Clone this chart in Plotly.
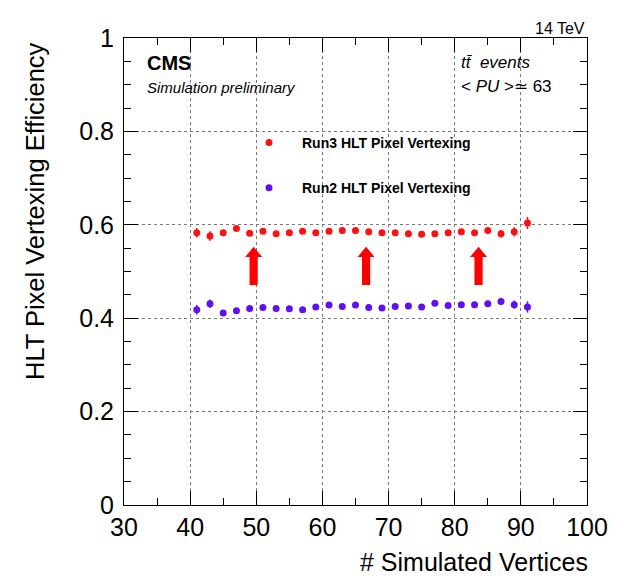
import plotly.graph_objects as go

# ---- data ----
n_vertices = [41, 43, 45, 47, 49, 51, 53, 55, 57, 59, 61, 63, 65,
              67, 69, 71, 73, 75, 77, 79, 81, 83, 85, 87, 89, 91]

run3_eff = [0.583, 0.576, 0.583, 0.592, 0.582, 0.586, 0.581, 0.583, 0.586,
            0.583, 0.586, 0.588, 0.588, 0.585, 0.583, 0.583, 0.581, 0.580,
            0.581, 0.583, 0.585, 0.583, 0.588, 0.581, 0.585, 0.604]
run3_err = [0.010, 0.010, 0.005, 0.005, 0.004, 0.004, 0.004, 0.004, 0.004,
            0.004, 0.004, 0.004, 0.004, 0.004, 0.004, 0.004, 0.004, 0.004,
            0.004, 0.004, 0.005, 0.005, 0.006, 0.008, 0.010, 0.013]

run2_eff = [0.418, 0.431, 0.411, 0.416, 0.421, 0.423, 0.421, 0.420, 0.418,
            0.424, 0.428, 0.425, 0.428, 0.423, 0.422, 0.425, 0.426, 0.424,
            0.432, 0.427, 0.429, 0.429, 0.431, 0.436, 0.429, 0.424]
run2_err = [0.010, 0.009, 0.005, 0.004, 0.004, 0.004, 0.004, 0.004, 0.004,
            0.004, 0.004, 0.004, 0.004, 0.004, 0.004, 0.004, 0.004, 0.004,
            0.004, 0.004, 0.005, 0.005, 0.006, 0.008, 0.009, 0.012]

series_names = ["Run3 HLT Pixel Vertexing", "Run2 HLT Pixel Vertexing"]
series_colors = ["#ff1010", "#6010f0"]

x_ticks = [30, 40, 50, 60, 70, 80, 90, 100]
y_ticks = [0, 0.2, 0.4, 0.6, 0.8, 1]

# improvement arrows (annotation decoration)
arrow_x = [49.6, 66.6, 83.6]
arrow_bottom, arrow_headbase, arrow_tip = 0.471, 0.531, 0.553

FONT = "Liberation Sans, Arial, Helvetica, sans-serif"

fig = go.Figure()
for name, col, y, e in [(series_names[0], series_colors[0], run3_eff, run3_err),
                        (series_names[1], series_colors[1], run2_eff, run2_err)]:
    fig.add_trace(go.Scatter(
        x=n_vertices, y=y, mode="markers", name=name, legendgroup=name,
        marker=dict(color=col, size=7, symbol="circle"),
        error_y=dict(type="data", array=e, visible=True, color=col,
                     thickness=1.5, width=0),
    ))

# arrows as filled paths
for ax_ in arrow_x:
    hw, sw = 1.29, 0.62
    path = (f"M {ax_-sw},{arrow_bottom} L {ax_+sw},{arrow_bottom} "
            f"L {ax_+sw},{arrow_headbase} L {ax_+hw},{arrow_headbase} "
            f"L {ax_},{arrow_tip} L {ax_-hw},{arrow_headbase} "
            f"L {ax_-sw},{arrow_headbase} Z")
    fig.add_shape(type="path", path=path, xref="x", yref="y",
                  fillcolor="#ff0000", line=dict(width=0))

axis_common = dict(
    showline=True, linecolor="black", linewidth=1, mirror="ticks",
    ticks="inside", ticklen=14, tickcolor="black", tickwidth=1,
    showgrid=True, gridcolor="#777777", gridwidth=1, griddash="dot",
    zeroline=False, tickfont=dict(family=FONT, size=25, color="black"),
)

fig.update_xaxes(range=[30, 100], tickvals=x_ticks,
                 minor=dict(dtick=5, tick0=0, ticks="inside", ticklen=7,
                            tickcolor="black", showgrid=False),
                 **axis_common)
fig.update_yaxes(range=[0, 1], tickvals=y_ticks, ticklabelstandoff=4,
                 minor=dict(dtick=0.05, tick0=0, ticks="inside", ticklen=7,
                            tickcolor="black", showgrid=False),
                 **axis_common)

# page has an 8px body margin; reference plot frame spans x 124..587, y 38..505
OFF = 8
W, H = 624, 579
L, R, T, B = 124 - OFF, W - (587 - OFF), 38 - OFF, H - (505 - OFF)
pw, ph = 587 - 124, 505 - 38

def px(xp):
    return (xp - 124) / pw

def py(yp):
    return (505 - yp) / ph

ann = []
ann.append(dict(text="<b>CMS</b>", x=px(145), y=py(63), xanchor="left",
                yanchor="middle", font=dict(family=FONT, size=20, color="black")))
ann.append(dict(text="<i>Simulation preliminary</i>", x=px(145), y=py(87),
                xanchor="left", yanchor="middle",
                font=dict(family=FONT, size=15, color="black")))
ann.append(dict(text="<i>tt\u0304  events</i>", x=px(459), y=py(62),
                xanchor="left", yanchor="middle",
                font=dict(family=FONT, size=17, color="black")))
ann.append(dict(text="&lt; <i>PU</i> &gt;\u2243 63", x=px(459), y=py(86),
                xanchor="left", yanchor="middle",
                font=dict(family=FONT, size=17, color="black")))
ann.append(dict(text="14 TeV", x=1.0, y=py(28), xanchor="right",
                yanchor="middle", font=dict(family=FONT, size=16, color="black")))
ann.append(dict(text="# Simulated Vertices", x=px(590), y=py(562),
                xanchor="right", yanchor="middle",
                font=dict(family=FONT, size=25, color="black")))
ann.append(dict(text="HLT Pixel Vertexing Efficiency", x=px(35), y=py(211),
                xanchor="center", yanchor="middle", textangle=-90,
                font=dict(family=FONT, size=25.5, color="black")))
for a in ann:
    a.update(xref="paper", yref="paper", showarrow=False)

fig.update_layout(
    width=W, height=H,
    margin=dict(l=L, r=R, t=T, b=B),
    plot_bgcolor="white", paper_bgcolor="white",
    annotations=ann,
    showlegend=True,
    legend=dict(x=px(236), y=py(127), xanchor="left", yanchor="top",
                itemwidth=56, tracegroupgap=24, bgcolor="rgba(0,0,0,0)",
                font=dict(family=FONT, size=14, color="black", weight="bold")),
)

fig.write_html("out.html")
